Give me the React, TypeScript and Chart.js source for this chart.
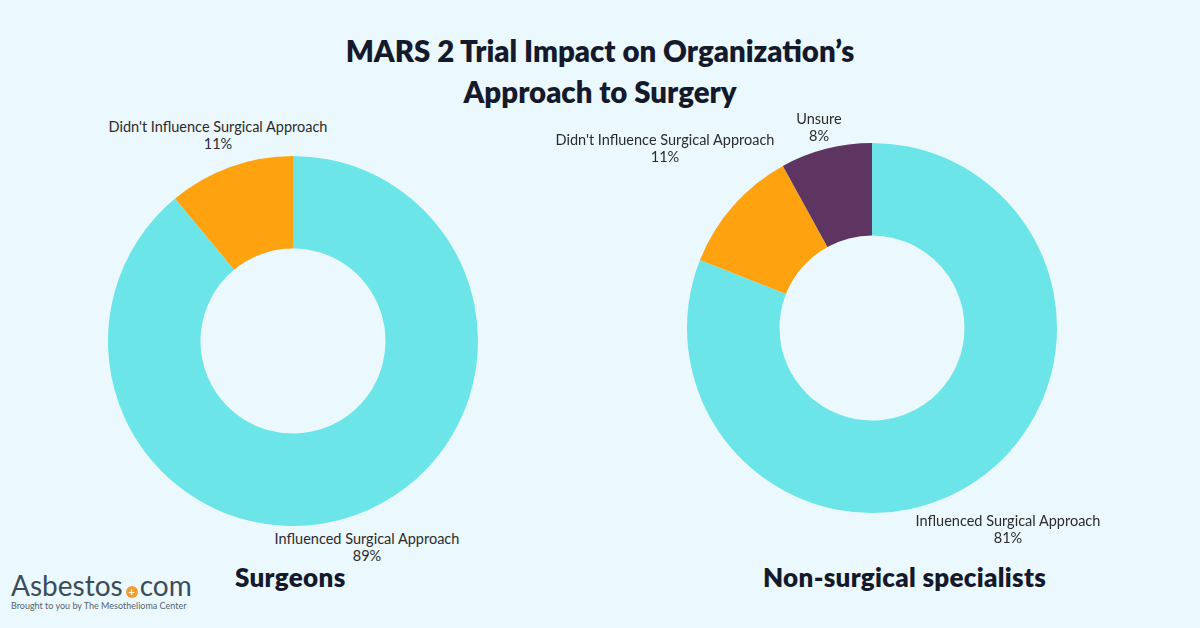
import React, { useEffect, useRef } from "react";
import { Chart, registerables } from "chart.js";
Chart.register(...registerables);

const leftCategories = ["Influenced Surgical Approach", "Didn't Influence Surgical Approach"];
const leftValues = [89, 11];
const leftColors = ["#6CE5E8", "#FFA20F"];

const rightCategories = ["Influenced Surgical Approach", "Didn't Influence Surgical Approach", "Unsure"];
const rightValues = [81, 11, 8];
const rightColors = ["#6CE5E8", "#FFA20F", "#5E3561"];

const BG = "#EBF8FE";
const FONT = "Lato, 'Open Sans', sans-serif";

function Donut({ labels, values, colors, style }: any) {
  const ref = useRef<HTMLCanvasElement>(null);
  useEffect(() => {
    const chart = new Chart(ref.current!, {
      type: "doughnut",
      data: {
        labels,
        datasets: [{ data: values, backgroundColor: colors, borderWidth: 0 }],
      },
      options: {
        animation: false,
        responsive: false,
        maintainAspectRatio: false,
        cutout: "50%",
        layout: { padding: 0 },
        plugins: { legend: { display: false }, tooltip: { enabled: false } },
      },
    });
    return () => chart.destroy();
  }, []);
  return <canvas ref={ref} width={370} height={370} style={{ position: "absolute", ...style }} />;
}

function Label({ x, y, lines }: any) {
  return (
    <div
      style={{
        position: "absolute",
        left: x - 200,
        top: y,
        width: 400,
        textAlign: "center",
        fontFamily: FONT,
        fontSize: 14.5,
        lineHeight: "17px",
        color: "#2b2b2b",
      }}
    >
      {lines.map((l: string, i: number) => (
        <div key={i}>{l}</div>
      ))}
    </div>
  );
}

export default function App() {
  useEffect(() => {
    document.body.style.margin = "0";
  }, []);
  const sub = { position: "absolute" as const, top: 561, fontFamily: FONT, fontWeight: 800, fontSize: 26, letterSpacing: 0.3, color: "#141a2b" };
  return (
    <div style={{ position: "fixed", left: 0, top: 0, width: 1200, height: 628, background: BG, overflow: "hidden" }}>
      <div
        style={{
          position: "absolute",
          left: 0,
          top: 30,
          width: 1200,
          textAlign: "center",
          fontFamily: FONT,
          fontWeight: 800,
          fontSize: 29.4,
          lineHeight: "41px",
          color: "#141a2b",
        }}
      >
        <div>MARS 2 Trial Impact on Organization’s</div>
        <div>Approach to Surgery</div>
      </div>

      <Donut labels={leftCategories} values={leftValues} colors={leftColors} style={{ left: 108, top: 156 }} />
      <Donut labels={rightCategories} values={rightValues} colors={rightColors} style={{ left: 687, top: 143 }} />

      <Label x={218} y={118} lines={[leftCategories[1], leftValues[1] + "%"]} />
      <Label x={367} y={530} lines={[leftCategories[0], leftValues[0] + "%"]} />
      <Label x={665} y={131} lines={[rightCategories[1], rightValues[1] + "%"]} />
      <Label x={819} y={110} lines={[rightCategories[2], rightValues[2] + "%"]} />
      <Label x={1008} y={512} lines={[rightCategories[0], rightValues[0] + "%"]} />

      <div style={{ ...sub, left: 235 }}>Surgeons</div>
      <div style={{ ...sub, left: 763 }}>Non-surgical specialists</div>

      <div style={{ position: "absolute", left: 11, top: 570, fontFamily: FONT, color: "#3b4d5a" }}>
        <div style={{ fontSize: 28, lineHeight: "30px", display: "flex", alignItems: "baseline" }}>
          <span>Asbestos</span>
          <span
            style={{
              display: "inline-block",
              width: 12,
              height: 12,
              borderRadius: 6,
              background: "#F59A2C",
              color: "#fff",
              fontSize: 11,
              lineHeight: "12px",
              textAlign: "center",
              fontWeight: 700,
              margin: "0 2px 0 3px",
            }}
          >
            +
          </span>
          <span>com</span>
        </div>
        <div style={{ fontSize: 9, lineHeight: "12px", color: "#55656f" }}>Brought to you by The Mesothelioma Center</div>
      </div>
    </div>
  );
}
